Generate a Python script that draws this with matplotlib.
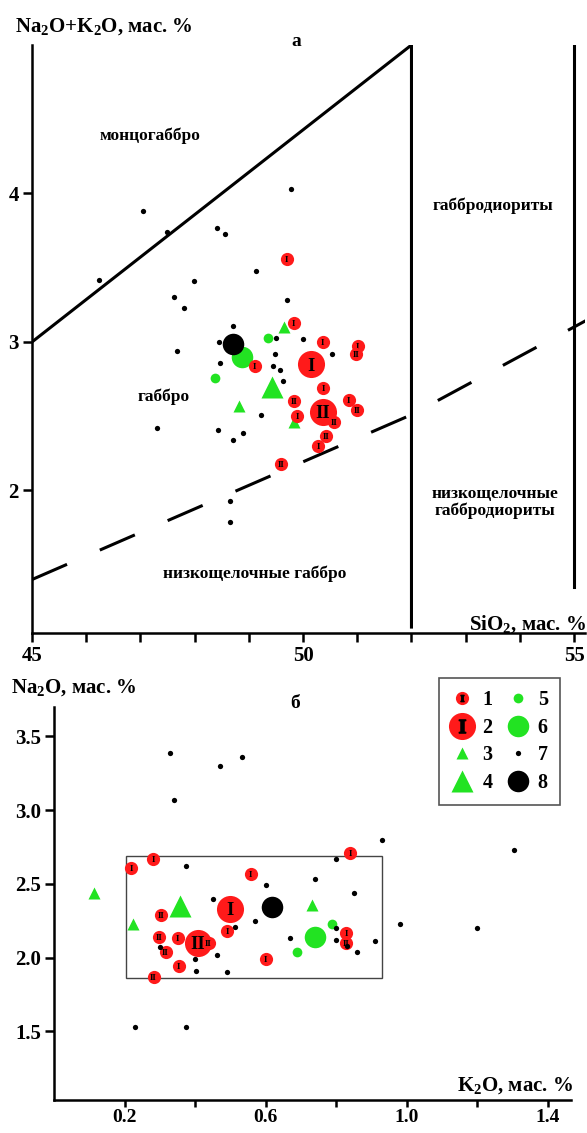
import numpy as np
import matplotlib.pyplot as plt
from matplotlib.lines import Line2D
from matplotlib.legend_handler import HandlerTuple
from matplotlib.patches import Rectangle

plt.rcParams['font.family'] = ['Liberation Serif', 'DejaVu Serif']
plt.rcParams['font.weight'] = 'bold'
plt.rcParams['mathtext.default'] = 'regular'

RED = '#ff1a1a'
GREEN = '#22e322'

# -----------------------------------------
# diagram a: SiO2 vs Na2O+K2O
# -----------------------------------------
# 1 - small red circles with group label
a_si_1 = [49.70, 49.83, 50.36, 51.01, 50.98, 49.11, 50.37, 49.84, 49.89,
          50.58, 50.84, 50.99, 50.43, 50.28, 49.59]
a_tot_1 = [3.56, 3.13, 3.00, 2.97, 2.92, 2.84, 2.69, 2.60, 2.50,
           2.46, 2.61, 2.54, 2.37, 2.30, 2.18]
a_lab_1 = ['I', 'I', 'I', 'I', 'II', 'I', 'I', 'II', 'I',
           'II', 'I', 'II', 'II', 'I', 'II']
# 2 - big red circles
a_si_2 = [50.15, 50.37]
a_tot_2 = [2.85, 2.53]
a_lab_2 = ['I', 'II']
# 3 - small green triangles
a_si_3 = [49.64, 48.82, 49.83]
a_tot_3 = [3.10, 2.57, 2.46]
# 4 - big green triangle
a_si_4 = [49.43]
a_tot_4 = [2.70]
# 5 - small green circles
a_si_5 = [49.35, 48.38]
a_tot_5 = [3.03, 2.76]
# 6 - big green circle
a_si_6 = [48.87]
a_tot_6 = [2.90]
# 7 - black dots
a_si_7 = [49.78, 47.04, 47.49, 48.42, 48.56, 46.24, 47.99, 49.13, 47.62,
          47.81, 49.70, 48.71, 48.45, 49.51, 49.99, 50.54, 49.48, 48.47,
          49.44, 49.58, 49.63, 47.67, 47.31, 48.44, 48.89, 48.71, 49.23,
          48.65, 48.65]
a_tot_7 = [4.03, 3.88, 3.74, 3.77, 3.73, 3.42, 3.41, 3.48, 3.30,
           3.23, 3.28, 3.11, 3.00, 3.03, 3.02, 2.92, 2.92, 2.86,
           2.84, 2.81, 2.74, 2.94, 2.42, 2.41, 2.39, 2.34, 2.51,
           1.93, 1.79]
# 8 - big black circle
a_si_8 = [48.71]
a_tot_8 = [2.985]

# field boundaries
bnd_solid_si = [45.0, 52.0, 52.0]
bnd_solid_tot = [3.0, 5.0, 1.08]
bnd_right_si = [55.0, 55.0]
bnd_right_tot = [5.0, 1.35]
bnd_dash_si = [45.0, 52.0, 55.3]
bnd_dash_tot = [1.40, 2.51, 3.16]

# -----------------------------------------
# diagram b: K2O vs Na2O
# -----------------------------------------
b_k_1 = [0.218, 0.281, 0.557, 0.839, 0.303, 0.298, 0.351, 0.316, 0.353,
         0.282, 0.491, 0.600, 0.829, 0.829, 0.438]
b_na_1 = [2.61, 2.67, 2.57, 2.71, 2.29, 2.14, 2.13, 2.04, 1.94,
          1.87, 2.18, 1.99, 2.17, 2.10, 2.10]
b_lab_1 = ['I', 'I', 'I', 'I', 'II', 'II', 'I', 'II', 'I',
           'II', 'I', 'I', 'I', 'II', 'II']
b_k_2 = [0.500, 0.407]
b_na_2 = [2.33, 2.10]
b_lab_2 = ['I', 'II']
b_k_3 = [0.112, 0.223, 0.730]
b_na_3 = [2.44, 2.23, 2.36]
b_k_4 = [0.356]
b_na_4 = [2.35]
b_k_5 = [0.788, 0.690]
b_na_5 = [2.23, 2.04]
b_k_6 = [0.739]
b_na_6 = [2.14]
b_k_7 = [0.328, 0.470, 0.532, 0.340, 0.373, 0.600, 0.740, 0.850, 0.450,
         0.571, 0.513, 0.670, 0.800, 0.800, 0.830, 0.860, 0.910, 0.980,
         1.200, 0.300, 0.400, 0.463, 0.403, 0.490, 0.230, 0.373, 0.931,
         1.305, 0.800]
b_na_7 = [3.39, 3.30, 3.36, 3.07, 2.62, 2.49, 2.53, 2.44, 2.40,
          2.25, 2.21, 2.13, 2.20, 2.12, 2.08, 2.04, 2.11, 2.23,
          2.20, 2.07, 1.99, 2.02, 1.91, 1.90, 1.53, 1.53, 2.80,
          2.73, 2.67]
b_k_8 = [0.619]
b_na_8 = [2.34]

# frame around the cluster
box_k = [0.205, 0.930]
box_na = [1.86, 2.69]

legend_labels = ['1', '2', '3', '4', '5', '6', '7', '8']

# marker sizes (points)
MS_R1, MS_R2 = 9.5, 19.5
MS_T3, MS_T4 = 8.5, 15.5
MS_G5, MS_G6 = 7.0, 15.5
MS_K7, MS_K8 = 3.8, 15.5


def draw_groups(ax, g):
    ax.plot(g[3][0], g[3][1], '^', ms=MS_T3, color=GREEN, mec='none', zorder=2)
    ax.plot(g[4][0], g[4][1], '^', ms=MS_T4, color=GREEN, mec='none', zorder=2)
    ax.plot(g[5][0], g[5][1], 'o', ms=MS_G5, color=GREEN, mec='none', zorder=2)
    ax.plot(g[6][0], g[6][1], 'o', ms=MS_G6, color=GREEN, mec='none', zorder=2)
    ax.plot(g[2][0], g[2][1], 'o', ms=MS_R2, color=RED, mec='none', zorder=3)
    for x, y, t in zip(*g[2]):
        ax.text(x, y, t, fontsize=13.5, ha='center', va='center_baseline', zorder=3.1)
    for x, y, t in zip(*g[1]):
        ax.plot(x, y, 'o', ms=MS_R1, color=RED, mec='none', zorder=4)
        ax.text(x, y, t, fontsize=6.5, ha='center', va='center_baseline', zorder=4)
    ax.plot(g[7][0], g[7][1], 'o', ms=MS_K7, color='black', mec='none', zorder=5)
    ax.plot(g[8][0], g[8][1], 'o', ms=MS_K8, color='black', mec='none', zorder=6)


def style_axes(ax):
    for s in ['top', 'right']:
        ax.spines[s].set_visible(False)
    for s in ['left', 'bottom']:
        ax.spines[s].set_linewidth(1.8)
    ax.tick_params(direction='out', length=6.5, width=1.8, labelsize=15, pad=3)


fig = plt.figure(figsize=(5.87, 11.33), dpi=100)

# ---------------- a ----------------
ax1 = fig.add_axes([0.0545, 0.4413, 0.942, 0.519])
ax1.set_xlim(45, 55.2)
ax1.set_ylim(1.04, 5.0)
style_axes(ax1)
ax1.set_xticks(np.arange(45, 56, 1))
ax1.set_xticklabels(['45', '', '', '', '', '50', '', '', '', '', '55'])
ax1.set_yticks([2, 3, 4])
ax1.set_yticklabels(['2', '3', '4'])

ax1.plot(bnd_solid_si, bnd_solid_tot, color='black', lw=2.2, solid_joinstyle='miter')
ax1.plot(bnd_right_si, bnd_right_tot, color='black', lw=2.2)
ax1.plot(bnd_dash_si, bnd_dash_tot, color='black', lw=2.2, linestyle=(0, (12.5, 11.7)))

draw_groups(ax1, {1: (a_si_1, a_tot_1, a_lab_1), 2: (a_si_2, a_tot_2, a_lab_2),
                  3: (a_si_3, a_tot_3), 4: (a_si_4, a_tot_4),
                  5: (a_si_5, a_tot_5), 6: (a_si_6, a_tot_6),
                  7: (a_si_7, a_tot_7), 8: (a_si_8, a_tot_8)})

ax1.text(47.18, 4.39, 'монцогаббро', fontsize=12.5, ha='center', va='center')
ax1.text(53.51, 3.92, 'габбродиориты', fontsize=12.5, ha='center', va='center')
ax1.text(47.42, 2.63, 'габбро', fontsize=12.5, ha='center', va='center')
ax1.text(53.54, 1.92, 'низкощелочные\nгаббродиориты', fontsize=12.5,
         ha='center', va='center', linespacing=1.0)
ax1.text(49.11, 1.44, 'низкощелочные габбро', fontsize=12.5, ha='center', va='center')

fig.text(15 / 587, 1 - 27 / 1133, 'Na$_2$O+K$_2$O, мас. %', fontsize=15, ha='left', va='center')
fig.text(296 / 587, 1 - 42 / 1133, 'а', fontsize=14, ha='center', va='center')
fig.text(586 / 587, 1 - 624 / 1133, 'SiO$_2$, мас. %', fontsize=15, ha='right', va='center')

# ---------------- b ----------------
ax2 = fig.add_axes([0.0923, 0.0291, 0.8804, 0.3469])
ax2.set_xlim(0, 1.466)
ax2.set_ylim(1.034, 3.70)
style_axes(ax2)
ax2.tick_params(axis='x', length=5, pad=1.5, labelsize=14)
ax2.set_xticks([0.2, 0.4, 0.6, 0.8, 1.0, 1.2, 1.4])
ax2.set_xticklabels(['0.2', '', '0.6', '', '1.0', '', '1.4'])
ax2.set_yticks([1.5, 2.0, 2.5, 3.0, 3.5])
ax2.set_yticklabels(['1.5', '2.0', '2.5', '3.0', '3.5'])

ax2.add_patch(Rectangle((box_k[0], box_na[0]), box_k[1] - box_k[0], box_na[1] - box_na[0],
                        fill=False, edgecolor='#444444', lw=1.0, zorder=1))

draw_groups(ax2, {1: (b_k_1, b_na_1, b_lab_1), 2: (b_k_2, b_na_2, b_lab_2),
                  3: (b_k_3, b_na_3), 4: (b_k_4, b_na_4),
                  5: (b_k_5, b_na_5), 6: (b_k_6, b_na_6),
                  7: (b_k_7, b_na_7), 8: (b_k_8, b_na_8)})

fig.text(11 / 587, 1 - 688 / 1133, 'Na$_2$O, мас. %', fontsize=15, ha='left', va='center')
fig.text(295 / 587, 1 - 703 / 1133, 'б', fontsize=14, ha='center', va='center')
fig.text(573 / 587, 1 - 1086 / 1133, 'K$_2$O, мас. %', fontsize=15, ha='right', va='center')

# legend
h1 = (Line2D([], [], ls='none', marker='o', ms=MS_R1, color=RED, mec='none'),
      Line2D([], [], ls='none', marker='$I$', ms=4.5, color='black'))
h2 = (Line2D([], [], ls='none', marker='o', ms=MS_R2, color=RED, mec='none'),
      Line2D([], [], ls='none', marker='$I$', ms=9.5, color='black'))
h3 = Line2D([], [], ls='none', marker='^', ms=MS_T3, color=GREEN, mec='none')
h4 = Line2D([], [], ls='none', marker='^', ms=MS_T4, color=GREEN, mec='none')
h5 = Line2D([], [], ls='none', marker='o', ms=MS_G5, color=GREEN, mec='none')
h6 = Line2D([], [], ls='none', marker='o', ms=MS_G6, color=GREEN, mec='none')
h7 = Line2D([], [], ls='none', marker='o', ms=MS_K7, color='black', mec='none')
h8 = Line2D([], [], ls='none', marker='o', ms=MS_K8, color='black', mec='none')

leg = ax2.legend([h1, h2, h3, h4, h5, h6, h7, h8], legend_labels, ncol=2,
                 loc='upper left', bbox_to_anchor=(439 / 587, 1 - 678 / 1133),
                 bbox_transform=fig.transFigure, frameon=True, fancybox=False,
                 edgecolor='#555555', framealpha=1, borderpad=0.6,
                 labelspacing=0.38, handlelength=1.1, handletextpad=0.45,
                 columnspacing=0.7, borderaxespad=0,
                 prop={'size': 14.5, 'weight': 'bold'},
                 handler_map={tuple: HandlerTuple(ndivide=1)})
leg.get_frame().set_linewidth(1.2)

plt.savefig('out.png', dpi=100)
plt.close()
